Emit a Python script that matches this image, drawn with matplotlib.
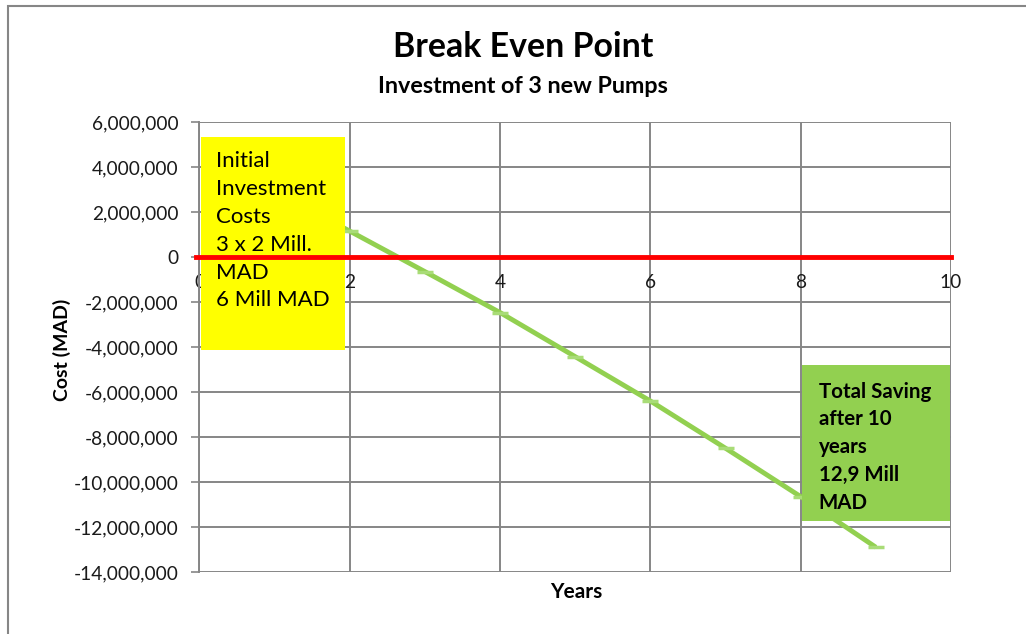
import matplotlib.pyplot as plt
from matplotlib.patches import Rectangle
from matplotlib.ticker import FuncFormatter

plt.rcParams['font.family'] = ['Lato', 'DejaVu Sans']

# cumulative cost per year (MAD)
years = [1, 2, 3, 4, 5, 6, 7, 8, 9]
cost = [2950000, 1150000, -650000, -2470000, -4430000, -6400000, -8500000, -10650000, -12900000]

x_ticks = [0, 2, 4, 6, 8, 10]
y_ticks = [6e6, 4e6, 2e6, 0, -2e6, -4e6, -6e6, -8e6, -10e6, -12e6, -14e6]

invest_text = "Initial\nInvestment\nCosts\n3 x 2 Mill.\nMAD\n6 Mill MAD"
saving_text = "Total Saving\nafter 10\nyears\n12,9 Mill\nMAD"

grid_col = '#868686'
line_col = '#92D050'

fig = plt.figure(figsize=(10.26, 6.34), dpi=100)
ax = fig.add_axes([0.1944, 0.0978, 0.7325, 0.7098])

# outer chart frame (open on the right and bottom)
fig.patches.append(Rectangle((8 / 1026, -0.1), 1.2, 1.1 - 6 / 634, transform=fig.transFigure,
                             fill=False, edgecolor=grid_col, lw=1.5, zorder=0))

ax.set_xlim(0, 10)
ax.set_ylim(-14e6, 6e6)
ax.set_xticks(x_ticks)
ax.set_yticks(y_ticks)
ax.yaxis.set_major_formatter(FuncFormatter(lambda v, p: f"{v:,.0f}"))
ax.grid(True, color=grid_col, lw=1.4)
ax.set_axisbelow(True)

for s in ['top', 'right']:
    ax.spines[s].set_visible(False)
ax.spines['left'].set_color(grid_col)
ax.spines['left'].set_linewidth(1.4)
ax.spines['bottom'].set_position(('data', 0))
ax.spines['bottom'].set_visible(False)

ax.tick_params(axis='y', length=6, width=1.2, color=grid_col, pad=9, labelsize=13.8, labelcolor='#1a1a1a')
ax.tick_params(axis='x', length=0, pad=12, labelsize=13.8, labelcolor='#1a1a1a')

# savings line
ax.plot(years, cost, color=line_col, lw=3.5, zorder=3, solid_capstyle='butt')
ax.plot(years, cost, ls='none', marker='_', ms=11, mew=2.5, color='#a9dc77', zorder=3)

# text boxes
ax.add_patch(Rectangle((0.002, 0.493), 0.192, 0.474, transform=ax.transAxes,
                       facecolor='#ffff00', edgecolor='none', zorder=5))
ax.text(0.022, 0.935, invest_text, transform=ax.transAxes, va='top', ha='left',
        fontsize=16, linespacing=1.49, zorder=5.5)

ax.add_patch(Rectangle((0.802, 0.113), 0.197, 0.347, transform=ax.transAxes,
                       facecolor=line_col, edgecolor='none', zorder=5))
ax.text(0.824, 0.423, saving_text, transform=ax.transAxes, va='top', ha='left',
        fontsize=14.8, fontweight='bold', linespacing=1.49, zorder=5.5)

# break even reference line at zero
ax.axhline(0, xmin=-0.005, color='#ff0000', lw=3.5, zorder=6, clip_on=False)

fig.text(0.51, 0.926, "Break Even Point", ha='center', va='center', fontsize=24.4, fontweight='bold')
fig.text(0.51, 0.864, "Investment of 3 new Pumps", ha='center', va='center', fontsize=16.8, fontweight='bold')
fig.text(0.562, 0.066, "Years", ha='center', va='center', fontsize=15, fontweight='bold')
fig.text(0.06, 0.448, "Cost (MAD)", ha='center', va='center', rotation=90, fontsize=14, fontweight='bold')

fig.savefig('out.png', dpi=100)
